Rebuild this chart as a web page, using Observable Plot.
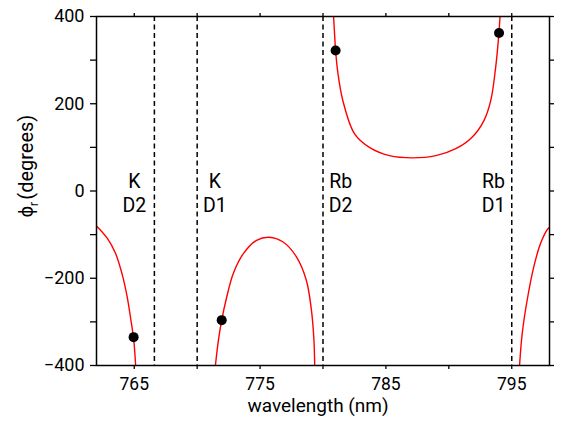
<!DOCTYPE html>
<html>
<head>
<meta charset="utf-8">
<script src="https://cdn.jsdelivr.net/npm/d3@7"></script>
<script src="https://cdn.jsdelivr.net/npm/@observablehq/plot@0.6"></script>
<style>
  html, body { margin: 0; padding: 0; background: white; }
</style>
</head>
<body>
<div id="chart"></div>
<script>
// Branch A (left edge, falling toward -400)
const wlA  = [762.0, 762.85, 763.5, 764.03, 764.42, 764.74, 764.95, 765.11];
const phiA = [-80, -108, -142, -190, -240, -297, -338, -400];
// Branch B (hump between K D1 and Rb D2)
const wlB  = [771.45, 771.69, 771.95, 772.35, 772.87, 773.66, 774.72, 775.72, 776.83, 777.89, 778.68, 779.08, 779.28, 779.34];
const phiB = [-400, -342, -296, -243, -189, -144, -113, -106, -117, -151, -205, -273, -342, -400];
// Branch C (U shape between Rb D2 and Rb D1)
const wlC  = [780.84, 780.92, 781.0, 781.19, 781.58, 782.51, 783.69, 785.28, 787.12, 788.97, 790.55, 791.87, 792.8, 793.33, 793.72, 793.93, 794.07];
const phiC = [400, 360, 322, 269, 207, 131, 100, 81, 76, 81, 97, 124, 162, 207, 283, 344, 400];
// Branch D (right edge, rising from -400)
const wlD  = [795.62, 795.83, 796.22, 796.75, 797.28, 797.89, 798.0];
const phiD = [-400, -327, -251, -174, -121, -86, -84];

// Marked points
const markWl  = [764.95, 771.95, 781.0, 793.99];
const markPhi = [-335, -296, 322, 362];

// Resonance lines and their labels
const lineWl     = [766.6, 770.0, 780.0, 795.0];
const lineLabels = ["K\nD2", "K\nD1", "Rb\nD2", "Rb\nD1"];
const labelWl    = [765.0, 771.4, 781.4, 793.55];

// Ticks
const xTicks = [765, 770, 775, 780, 785, 790, 795];
const xTickLabels = [765, 775, 785, 795];
const yTicks = [-400, -300, -200, -100, 0, 100, 200, 300, 400];
const yTickLabels = [-400, -200, 0, 200, 400];

const branches = [["A", wlA, phiA], ["B", wlB, phiB], ["C", wlC, phiC], ["D", wlD, phiD]];
const curve = branches.flatMap(([b, wl, phi]) => wl.map((w, i) => ({branch: b, wl: w, phi: phi[i]})));
const marks = markWl.map((w, i) => ({wl: w, phi: markPhi[i]}));
const labels = labelWl.map((w, i) => ({wl: w, text: lineLabels[i]}));

const fmtY = d => yTickLabels.includes(d) ? String(d).replace("-", "\u2212") : "";
const fmtX = d => xTickLabels.includes(d) ? String(d) : "";

const chart = Plot.plot({
  width: 564,
  height: 422,
  marginLeft: 96,
  marginRight: 15,
  marginTop: 16,
  marginBottom: 57,
  style: {fontFamily: "Roboto, sans-serif", fontSize: "18px", background: "white", color: "black"},
  x: {domain: [762, 798], label: null},
  y: {domain: [-400, 400], label: null},
  marks: [
    Plot.ruleX(lineWl, {x: d => d, stroke: "black", strokeWidth: 1.5, strokeDasharray: "5,3.5"}),
    Plot.line(curve, {x: "wl", y: "phi", z: "branch", stroke: "red", strokeWidth: 1.4, curve: "catmull-rom", clip: true}),
    Plot.dot(marks, {x: "wl", y: "phi", r: 5, fill: "black", stroke: null}),
    Plot.text(labels, {x: "wl", y: () => 0, text: "text", fontSize: 19.5, lineHeight: 1.2, dy: 1.5, fill: "black"}),
    Plot.text(["wavelength (nm)"], {frameAnchor: "bottom", dy: 46, dx: -5, fontSize: 19, fill: "black"}),
    Plot.frame({stroke: "black", strokeWidth: 1.5}),
    Plot.axisX({ticks: xTicks, tickFormat: fmtX, tickSize: 4, tickPadding: 8, fontSize: 17.5, label: null, strokeWidth: 1.3}),
    Plot.axisX({anchor: "top", ticks: xTicks, tickFormat: () => "", tickSize: 4, label: null, strokeWidth: 1.3}),
    Plot.axisY({ticks: yTicks, tickFormat: fmtY, tickSize: 6, tickPadding: 6, fontSize: 18, label: null, strokeWidth: 1.3}),
    Plot.axisY({anchor: "right", ticks: yTicks, tickFormat: () => "", tickSize: 4, label: null, strokeWidth: 1.3})
  ]
});

document.getElementById("chart").appendChild(chart);

// y-axis title with subscript
const svg = d3.select(chart);
const yl = svg.append("text")
  .attr("transform", "translate(33,166) rotate(-90)")
  .attr("text-anchor", "middle")
  .attr("fill", "black")
  .style("font-size", "20px");
yl.append("tspan").text("\u03D5");
yl.append("tspan").attr("dy", 5).style("font-size", "13px").text("r");
yl.append("tspan").attr("dy", -5).attr("dx", 2).text("(degrees)");
</script>
</body>
</html>
